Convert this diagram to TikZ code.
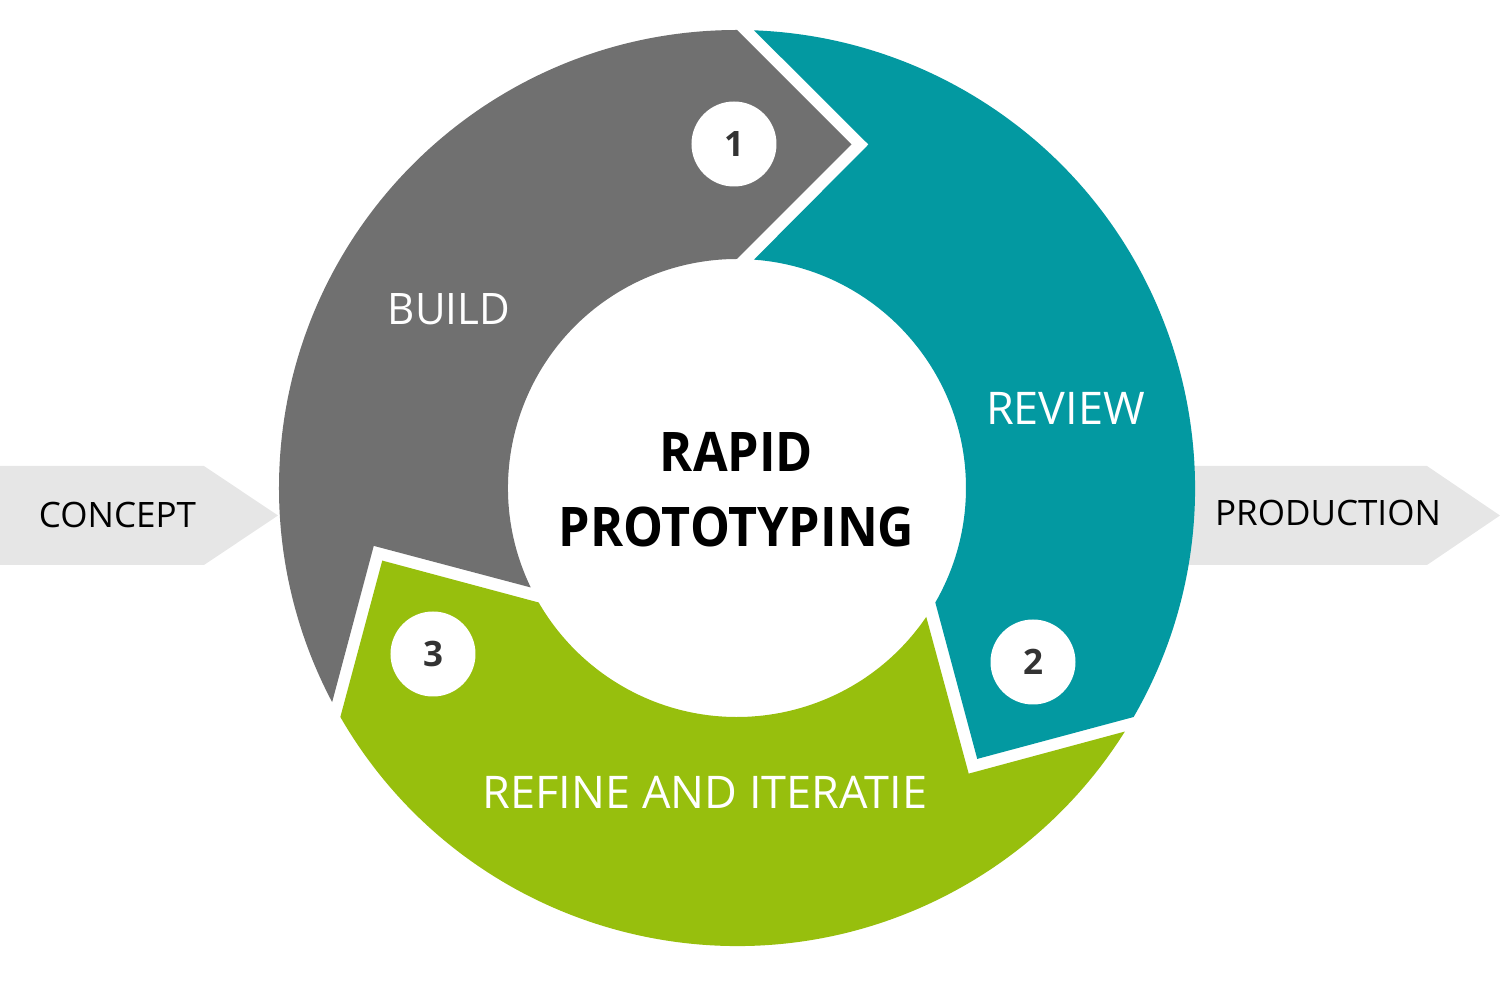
\documentclass[tikz,border=0pt]{standalone}
\usepackage{graphicx}
\usepackage{fontspec}
\setmainfont{Open Sans}
\definecolor{segGray}{HTML}{707070}
\definecolor{segTeal}{HTML}{0399A1}
\definecolor{segGreen}{HTML}{97BF0D}
\definecolor{arrowGray}{HTML}{E6E6E6}
\definecolor{numText}{HTML}{333333}
% one ring segment: starts (notch) at 90 deg, ends (tip) at -30 deg
\newcommand\ringsegpath{(87.873:458) -- (131.5,343.5) -- (85.743:229)
  arc[start angle=85.743, end angle=-30, radius=229]
  -- (240.23,-270.91) -- (-30:458)
  arc[start angle=-30, end angle=87.873, radius=458] -- cycle}
\begin{document}
\begin{tikzpicture}[x=1pt,y=1pt,
  flowarrow/.style={fill=arrowGray},
  sidelabel/.style={anchor=base, inner sep=0pt, text=black, font=\fontsize{35}{42}\selectfont},
  seglabel/.style={anchor=base, inner sep=0pt, text=white, font=\fontsize{45}{54}\selectfont},
  titlelabel/.style={anchor=base, inner sep=0pt, text=black, font=\bfseries\fontsize{54.6}{66}\selectfont},
  numcircle/.style={circle, fill=white, minimum size=85pt, inner sep=0pt, text=numText, font=\bfseries\fontsize{35}{42}\selectfont}]
\useasboundingbox (-737,-512) rectangle (763,488);
% side arrows
\fill[flowarrow] (-737,22) -- (-533,22) -- (-459,-27.5) -- (-533,-77) -- (-737,-77) -- cycle;
\fill[flowarrow] (300,22) -- (690,22) -- (763,-27.5) -- (690,-77) -- (300,-77) -- cycle;
% ring segments
\fill[segTeal] \ringsegpath;
\begin{scope}[rotate=120]
  \fill[segGray] \ringsegpath;
\end{scope}
\begin{scope}[rotate=-120]
  \fill[segGreen] \ringsegpath;
\end{scope}
% labels
\node[sidelabel] (concept) at (-619.5,-40) {CONCEPT};
\node[sidelabel] (production) at (591,-38) {PRODUCTION};
\node[seglabel, font=\fontsize{43.4}{52}\selectfont] (build) at (-288,163.5) {\scalebox{0.97}[1]{BUILD}};
\node[seglabel] (review) at (328.5,63) {REVIEW};
\node[seglabel] (refine) at (-32,-321) {REFINE AND ITERATIE};
\node[titlelabel] (rapid) at (-0.5,16) {\scalebox{0.92}[1]{RAPID}};
\node[titlelabel] (proto) at (-0.5,-59) {\scalebox{0.92}[1]{PROTOTYPING}};
% numbers
\node[numcircle] (n1) at (-3,344) {1};
\node[numcircle] (n2) at (296,-174) {2};
\node[numcircle] (n3) at (-304,-166) {3};
\end{tikzpicture}
\end{document}
